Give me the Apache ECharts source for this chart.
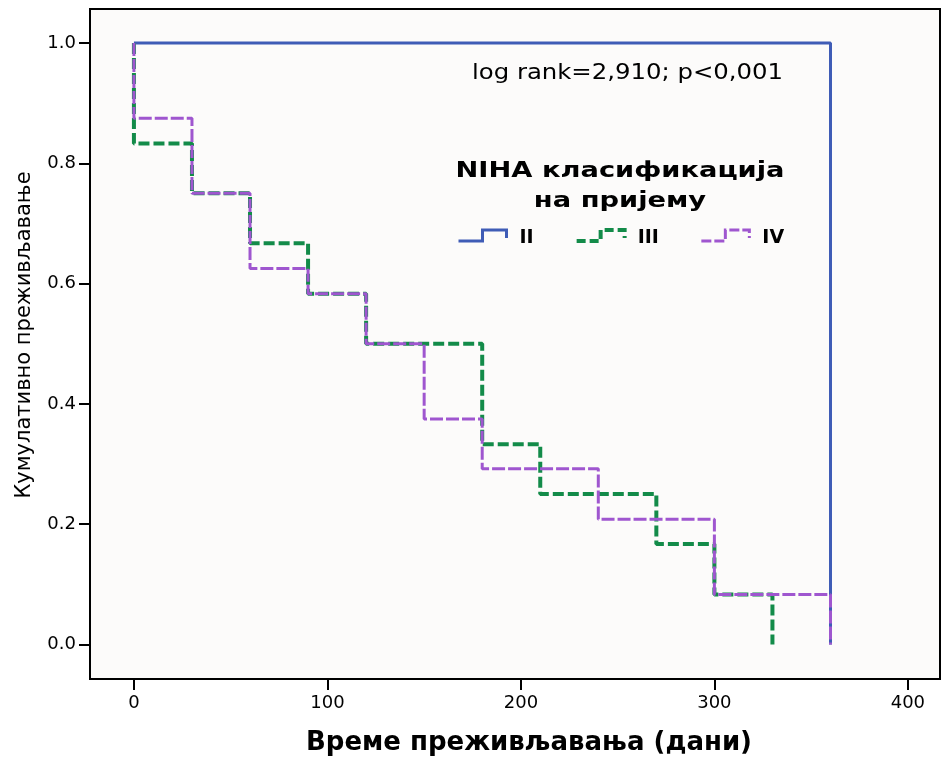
<!DOCTYPE html>
<html>
<head>
<meta charset="utf-8">
<script src="https://cdn.jsdelivr.net/npm/echarts@6/dist/echarts.min.js"></script>
<style>
  html, body { margin: 0; padding: 0; background: #fff; }
  #chart { width: 941px; height: 758px; }
</style>
</head>
<body>
<div id="chart"></div>
<script>
// Подаци — Kaplan-Meier кораци по групама (време у данима, кумулативно преживљавање)
const groupNames = ['II', 'III', 'IV']

const timesII = [0, 360]
const survII  = [1.0, 0.0]

const timesIII = [0, 0, 30, 60, 90, 120, 180, 210, 270, 300, 330]
const survIII  = [1.0, 0.833, 0.75, 0.667, 0.583, 0.5, 0.333, 0.25, 0.167, 0.083, 0.0]

const timesIV = [0, 0, 30, 60, 90, 120, 150, 180, 240, 300, 360]
const survIV  = [1.0, 0.875, 0.75, 0.625, 0.583, 0.5, 0.375, 0.292, 0.208, 0.083, 0.0]

const xTicks = [0, 100, 200, 300, 400]
const yTicks = [0, 0.2, 0.4, 0.6, 0.8, 1.0]

const statText    = 'log rank=2,910; p<0,001'
const legendTitle = 'NIHA класификација\nна пријему'
const xTitle      = 'Време преживљавања (дани)'
const yTitle      = 'Кумулативно преживљавање'

const colors = ['#3f5cb6', '#138b49', '#9f56cf']

const FONT = '"DejaVu Sans", Arial, sans-serif'
// степеница у легенди; задњи M само проширује оквир да икона седне више
const stepIcon = 'path://M0,12 L24,12 L24,1 L48,1 L48,9 M48,18'

const pairs = (xs, ys) => xs.map((x, i) => [x, ys[i]])

const chart = echarts.init(document.getElementById('chart'))

chart.setOption({
  animation: false,
  textStyle: { fontFamily: FONT },
  grid: {
    left: 90, top: 9, right: 1, bottom: 79,
    containLabel: false,
    outerBoundsMode: 'none',
    show: true,
    backgroundColor: '#fcfbfa',
    borderColor: '#000',
    borderWidth: 2,
  },
  legend: {
    left: 457, top: 228,
    padding: 0,
    orient: 'horizontal',
    itemWidth: 48, itemHeight: 17,
    itemGap: 41,
    icon: stepIcon,
    textStyle: { fontFamily: FONT, fontSize: 19, fontWeight: 'bold', color: '#000', padding: [0, 0, 0, 8] },
    selectedMode: false,
    data: [
      { name: 'II',  itemStyle: { color: 'transparent', borderColor: colors[0], borderWidth: 3, borderType: 'solid' } },
      { name: 'III', itemStyle: { color: 'transparent', borderColor: colors[1], borderWidth: 4, borderType: [9, 4] } },
      { name: 'IV',  itemStyle: { color: 'transparent', borderColor: colors[2], borderWidth: 3, borderType: [10, 3] } },
    ],
  },
  xAxis: {
    type: 'value',
    min: -22.7, max: 416.6,
    name: xTitle,
    nameLocation: 'middle',
    nameGap: 51,
    nameTextStyle: { fontFamily: FONT, fontSize: 26, fontWeight: 'bold', color: '#000', padding: [0, 0, 0, 28] },
    axisLine: { show: true, onZero: false, lineStyle: { color: '#000', width: 2 } },
    axisTick: { show: true, length: 11, lineStyle: { color: '#000', width: 2 }, customValues: xTicks },
    axisLabel: { fontFamily: FONT, fontSize: 18, color: '#000', margin: 15, customValues: xTicks },
    splitLine: { show: false },
  },
  yAxis: {
    type: 'value',
    min: -0.0574, max: 1.0565,
    name: yTitle,
    nameLocation: 'middle',
    nameRotate: 90,
    nameGap: 55,
    nameTextStyle: { fontFamily: FONT, fontSize: 21, color: '#000', padding: [0, 0, 0, 18] },
    axisLine: { show: true, onZero: false, lineStyle: { color: '#000', width: 2 } },
    axisTick: { show: true, length: 11, lineStyle: { color: '#000', width: 2 }, customValues: yTicks },
    axisLabel: { fontFamily: FONT, fontSize: 18, color: '#000', margin: 14, customValues: yTicks, formatter: v => v.toFixed(1) },
    splitLine: { show: false },
  },
  graphic: [
    {
      type: 'text', x: 472, y: 63, scaleX: 1.16,
      style: { text: statText, fill: '#000', font: '21px ' + FONT },
    },
    {
      type: 'text', x: 620, y: 157, scaleX: 1.3,
      style: {
        text: legendTitle, fill: '#000', align: 'center',
        font: 'bold 21px ' + FONT, lineHeight: 30,
      },
    },
  ],
  series: [
    {
      name: groupNames[0], type: 'line', step: 'end', symbol: 'none',
      data: pairs(timesII, survII),
      lineStyle: { color: colors[0], width: 3 },
      itemStyle: { color: colors[0] },
      z: 2,
    },
    {
      name: groupNames[1], type: 'line', step: 'end', symbol: 'none',
      data: pairs(timesIII, survIII),
      lineStyle: { color: colors[1], width: 4, type: [11, 4] },
      itemStyle: { color: colors[1] },
      z: 3,
    },
    {
      name: groupNames[2], type: 'line', step: 'end', symbol: 'none',
      data: pairs(timesIV, survIV),
      lineStyle: { color: colors[2], width: 3, type: [13, 3] },
      itemStyle: { color: colors[2] },
      z: 4,
    },
  ],
})
</script>
</body>
</html>
